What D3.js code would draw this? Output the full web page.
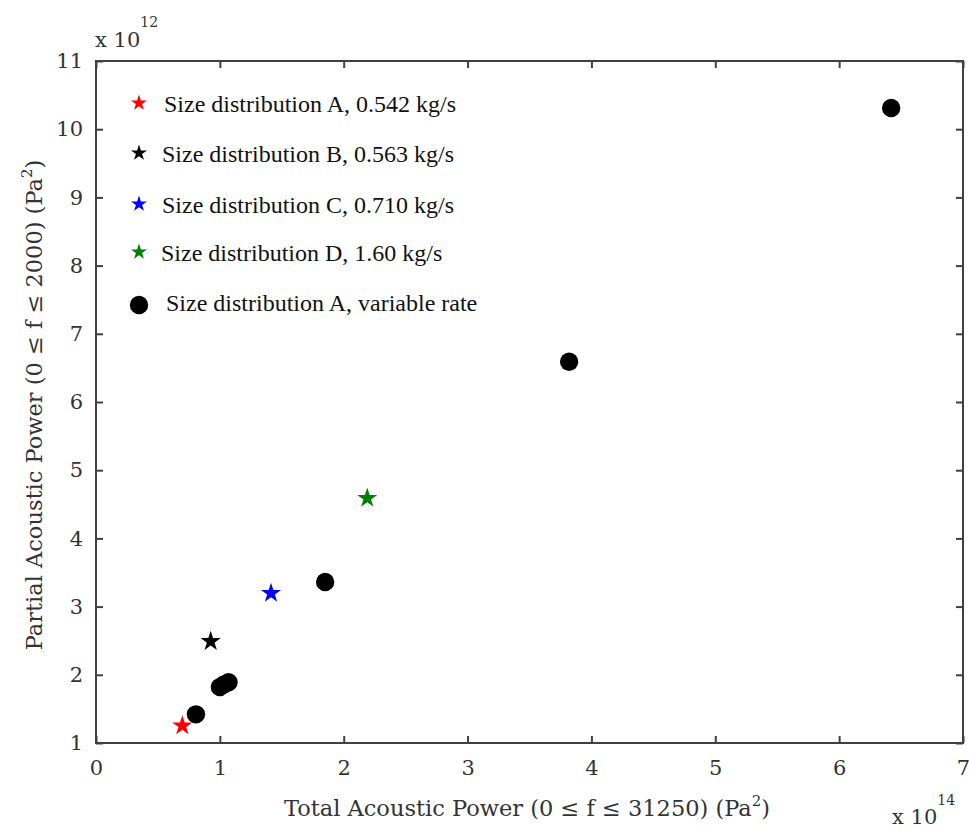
<!DOCTYPE html>
<html>
<head>
<meta charset="utf-8">
<script src="https://cdn.jsdelivr.net/npm/d3@7"></script>
<style>
  body { margin: 0; background: #fff; }
  .tick text { font-family: "DejaVu Serif", serif; font-size: 21px; fill: #333; }
  .lbl { font-family: "DejaVu Serif", serif; font-size: 22.5px; fill: #333; }
  .exp { font-family: "DejaVu Serif", serif; font-size: 21px; fill: #333; }
  .leg { font-family: "Liberation Serif", serif; font-size: 24px; fill: #111; }
</style>
</head>
<body>
<svg id="chart"></svg>
<script>
// star series: one point each
const starNames = ['Size distribution A, 0.542 kg/s', 'Size distribution B, 0.563 kg/s',
  'Size distribution C, 0.710 kg/s', 'Size distribution D, 1.60 kg/s'];
const starColors = ['#ff0000', '#000000', '#0000ff', '#008000'];
const starX = [0.697, 0.926, 1.413, 2.19];   // x 10^14
const starY = [1.254, 2.49, 3.195, 4.59];    // x 10^12

// variable rate series
const circleName = 'Size distribution A, variable rate';
const circleX = [0.807, 1.00, 1.035, 1.07, 1.85, 3.82, 6.42];
const circleY = [1.42, 1.82, 1.86, 1.89, 3.36, 6.59, 10.31];

const xTicks = [0, 1, 2, 3, 4, 5, 6, 7];
const yTicks = [1, 2, 3, 4, 5, 6, 7, 8, 9, 10, 11];

let svg = d3.select('#chart')
    .attr('width', 969)
    .attr('height', 830),
  margin = {top: 61, right: 6, bottom: 87, left: 96},
  width = +svg.attr('width') - margin.left - margin.right,
  height = +svg.attr('height') - margin.top - margin.bottom;

let g = svg.append('g')
  .attr('transform', 'translate(' + margin.left + ',' + margin.top + ')');

let xScale = d3.scaleLinear().domain([0, 7]).range([0, width]);
let yScale = d3.scaleLinear().domain([1, 11]).range([height, 0]);

const axisColor = '#404040';

function styleAxis(sel) {
  sel.select('.domain').remove();
  sel.selectAll('.tick line').attr('stroke', axisColor).attr('stroke-width', 2);
}

// bottom & left axes with labels, ticks inward
g.append('g')
  .attr('transform', 'translate(0,' + height + ')')
  .call(d3.axisBottom(xScale).tickValues(xTicks).tickFormat(d3.format('d'))
    .tickSizeInner(-7).tickSizeOuter(0).tickPadding(17))
  .call(styleAxis);

g.append('g')
  .call(d3.axisLeft(yScale).tickValues(yTicks).tickFormat(d3.format('d'))
    .tickSizeInner(-7).tickSizeOuter(0).tickPadding(13))
  .call(styleAxis);

// top & right ticks without labels
g.append('g')
  .call(d3.axisTop(xScale).tickValues(xTicks).tickFormat('')
    .tickSizeInner(-7).tickSizeOuter(0))
  .call(styleAxis);

g.append('g')
  .attr('transform', 'translate(' + width + ',0)')
  .call(d3.axisRight(yScale).tickValues(yTicks).tickFormat('')
    .tickSizeInner(-7).tickSizeOuter(0))
  .call(styleAxis);

// frame
g.append('rect')
  .attr('width', width)
  .attr('height', height)
  .attr('fill', 'none')
  .attr('stroke', axisColor)
  .attr('stroke-width', 2);

// data
g.selectAll('.dot')
  .data(circleX.map((x, i) => ({x: x, y: circleY[i]})))
  .enter().append('circle')
  .attr('class', 'dot')
  .attr('cx', d => xScale(d.x))
  .attr('cy', d => yScale(d.y))
  .attr('r', 9.2)
  .attr('fill', '#000');

const bigStar = d3.symbol().type(d3.symbolStar).size(125);
g.selectAll('.star')
  .data(starX.map((x, i) => ({x: x, y: starY[i], c: starColors[i]})))
  .enter().append('path')
  .attr('class', 'star')
  .attr('d', bigStar)
  .attr('transform', d => 'translate(' + xScale(d.x) + ',' + yScale(d.y) + ')')
  .attr('fill', d => d.c);

// legend
const legY = [103, 153, 204, 252];
const legTextX = [164, 162, 162, 161];
const smallStar = d3.symbol().type(d3.symbolStar).size(80);
let leg = svg.append('g').attr('class', 'legend');
starNames.forEach((name, i) => {
  leg.append('path')
    .attr('d', smallStar)
    .attr('transform', 'translate(139,' + legY[i] + ')')
    .attr('fill', starColors[i]);
  leg.append('text')
    .attr('class', 'leg')
    .attr('x', legTextX[i])
    .attr('y', legY[i] + 9)
    .text(name);
});
leg.append('circle')
  .attr('cx', 139).attr('cy', 305).attr('r', 9.2).attr('fill', '#000');
leg.append('text')
  .attr('class', 'leg')
  .attr('x', 166).attr('y', 311)
  .text(circleName);

// axis labels
let xl = svg.append('text')
  .attr('class', 'lbl')
  .attr('x', 527).attr('y', 816)
  .attr('text-anchor', 'middle');
xl.append('tspan').text('Total Acoustic Power (0 \u2264 f \u2264 31250) (Pa');
xl.append('tspan').attr('dy', -10).attr('font-size', 15).text('2');
xl.append('tspan').attr('dy', 10).text(')');

let yl = svg.append('text')
  .attr('class', 'lbl')
  .attr('transform', 'translate(42,405) rotate(-90)')
  .attr('text-anchor', 'middle');
yl.append('tspan').text('Partial Acoustic Power (0 \u2264 f \u2264 2000) (Pa');
yl.append('tspan').attr('dy', -10).attr('font-size', 15).text('2');
yl.append('tspan').attr('dy', 10).text(')');

// exponent labels
let e12 = svg.append('text').attr('class', 'exp').attr('x', 95).attr('y', 47);
e12.append('tspan').text('x 10');
e12.append('tspan').attr('dy', -20).attr('font-size', 14).text('12');

let e14 = svg.append('text').attr('class', 'exp').attr('x', 892).attr('y', 824);
e14.append('tspan').text('x 10');
e14.append('tspan').attr('dy', -19).attr('font-size', 14).text('14');
</script>
</body>
</html>
